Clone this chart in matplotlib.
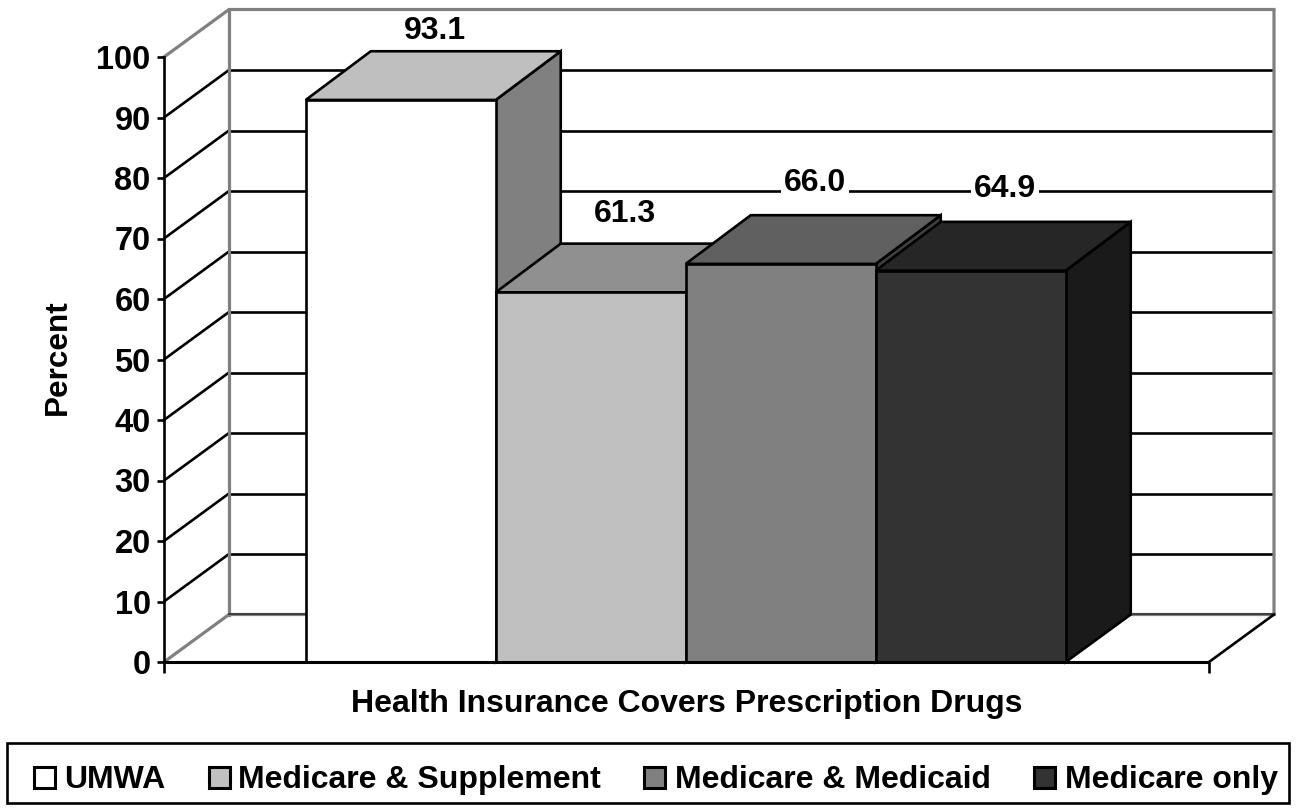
import matplotlib
matplotlib.use("Agg")
import matplotlib.pyplot as plt
from matplotlib.patches import Polygon, Rectangle
from matplotlib.transforms import Affine2D

plt.rcParams['font.family'] = ['Liberation Sans', 'DejaVu Sans']
plt.rcParams['font.weight'] = 'bold'

categories = ["UMWA", "Medicare & Supplement", "Medicare & Medicaid", "Medicare only"]
values = [93.1, 61.3, 66.0, 64.9]
labels = ["93.1", "61.3", "66.0", "64.9"]
label_gap = [3.4, 4.95, 5.4, 5.4]
front_colors = ["#FFFFFF", "#C0C0C0", "#808080", "#333333"]
top_colors = ["#BFBFBF", "#909090", "#606060", "#262626"]
side_colors = ["#808080", "#606060", "#404040", "#1A1A1A"]
yticks = list(range(0, 101, 10))
xlabel = "Health Insurance Covers Prescription Drugs"
ylabel = "Percent"
legend_text_x = [64, 238, 675, 1065]
legend_swatch_x = [34, 209, 644, 1034]

W, H = 1296, 811
fig = plt.figure(figsize=(W / 100, H / 100), dpi=100, facecolor="white")
L, R, T, B = 164, 1209, 57, 662
ax = fig.add_axes([L / W, 1 - B / H, (R - L) / W, (B - T) / H])
ax.set_xlim(-0.75, 4.75)
ax.set_ylim(0, 100)
ax.set_facecolor("none")
for s in ("top", "right", "bottom"):
    ax.spines[s].set_visible(False)
ax.spines["left"].set_linewidth(1.9)
ax.spines["left"].set_zorder(1.5)

DX = 65 / 190
DY = 47.5 / 6.05
DROP = 0.2
GRAY = "#808080"
LW = 1.9

# back wall gridlines and side wall diagonals
for v in yticks:
    if 0 < v < 100:
        ax.plot([-0.75, -0.75 + DX], [v, v + DY], color="black", lw=LW, clip_on=False, zorder=1, solid_capstyle="butt")
        ax.plot([-0.75 + DX, 4.75 + DX], [v + DY, v + DY], color="black", lw=LW, clip_on=False, zorder=1, solid_capstyle="butt")

# wall outline
ax.plot([-0.75, -0.75 + DX, 4.75 + DX, 4.75 + DX], [100, 100 + DY, 100 + DY, DY],
        color=GRAY, lw=2.3, clip_on=False, zorder=1.2, solid_joinstyle="miter")
ax.plot([-0.75 + DX, -0.75 + DX], [100 + DY, DY], color=GRAY, lw=2.3, clip_on=False, zorder=1.2)
ax.plot([-0.75, -0.75 + DX, 4.75 + DX], [0, DY, DY], color=GRAY, lw=2.3, clip_on=False, zorder=1.2)
ax.plot([-0.75 + DX, 4.75 + DX], [DY + 0.1, DY + 0.1], color="#404040", lw=1.4, clip_on=False, zorder=1.25)
ax.plot([4.75, 4.75 + DX], [0, DY], color="black", lw=LW, clip_on=False, zorder=1.3)

# bars
z = 2
for i, (val, fc, tc, sc, lab, gap) in enumerate(zip(values, front_colors, top_colors, side_colors, labels, label_gap)):
    x0, x1 = i - 0.004, i + 1 - 0.004
    h = val - DROP
    ax.add_patch(Polygon([(x1, 0), (x1 + DX, DY), (x1 + DX, val + DY), (x1, h)], closed=True,
                         fc=sc, ec="black", lw=LW, zorder=z, clip_on=False, joinstyle="miter"))
    ax.add_patch(Polygon([(x0, h), (x0 + DX, val + DY), (x1 + DX, val + DY), (x1, h)], closed=True,
                         fc=tc, ec="black", lw=LW, zorder=z + 0.1, clip_on=False, joinstyle="miter"))
    ax.bar(x0 + 0.5, h, width=1, color=fc, edgecolor="black", linewidth=LW, zorder=z + 0.2, clip_on=False)
    ax.text(x0 + 0.5 + 0.182, val + DY + gap, lab, ha="center", va="center", fontsize=23,
            fontweight="bold", zorder=10, clip_on=False,
            bbox=dict(fc="white", ec="none", pad=2))
    z += 1

# floor front line
ax.plot([-0.75, 4.75], [0, 0], color="black", lw=2.2, clip_on=False, zorder=8, solid_capstyle="butt")

ax.set_yticks(yticks)
ax.set_yticklabels([str(v) for v in yticks], fontsize=23.5, fontweight="bold")
ax.tick_params(axis="y", length=5, width=1.9, pad=4.6, direction="out")
ax.set_xticks([-0.75, 4.75])
ax.set_xticklabels(["", ""])
ax.tick_params(axis="x", length=8, width=1.9, direction="out", top=False)

fig.text(687 / W, 1 - 704 / H, xlabel, ha="center", va="center", fontsize=23, fontweight="bold")
fig.text(58 / W, 1 - 357.5 / H, ylabel, rotation=90, ha="center", va="center", fontsize=22.7, fontweight="bold")

# legend box (pixel coordinates from top-left)
px = Affine2D().scale(1 / W, -1 / H).translate(0, 1) + fig.transFigure
fig.add_artist(Rectangle((7, 743), 1282, 60, transform=px, fc="white", ec="black", lw=1.9))
for name, fc, tx, sx in zip(categories, front_colors, legend_text_x, legend_swatch_x):
    fig.add_artist(Rectangle((sx, 767), 21, 20.5, transform=px, fc=fc, ec="black", lw=2.2))
    fig.text(tx / W, 1 - 788 / H, name, ha="left", va="baseline", fontsize=23, fontweight="bold")

fig.savefig("out.png", dpi=100, facecolor="white")
